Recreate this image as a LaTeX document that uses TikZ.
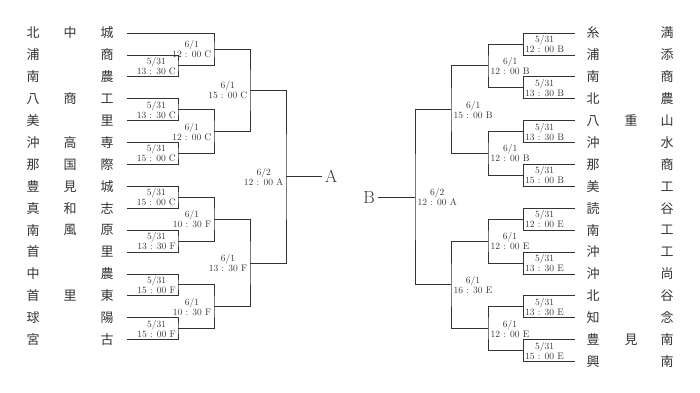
\documentclass[tikz,border=0pt]{standalone}
\usepackage{fontspec}
\newfontfamily\cjkfont{Noto Sans CJK JP}
\definecolor{ink}{HTML}{333333}
\begin{document}
\begin{tikzpicture}[x=1pt,y=-1pt,
  team/.style={font=\cjkfont\fontsize{13}{13}\selectfont,text=ink,inner sep=0pt},
  lbl/.style={font=\fontsize{9.5}{10}\selectfont,align=center,text=ink,inner sep=0.5pt},
  br/.style={draw=ink,line width=0.8pt},
  big/.style={font=\fontsize{17.5}{17.5}\selectfont,text=ink,inner sep=3pt}]
\useasboundingbox (0,0) rectangle (700,392);
\pgfmathsetmacro\rs{21.9}
% ---------- left teams ----------
\foreach \i/\a/\c in {0/北/城,1/浦/商,2/南/農,3/八/工,4/美/里,5/沖/専,6/那/際,7/豊/城,8/真/志,9/南/原,10/首/里,11/中/農,12/首/東,13/球/陽,14/宮/古}{
  \node[team] (la\i) at (33,{33+\rs*\i}) {\a};
  \node[team] (lc\i) at (107,{33+\rs*\i}) {\c};
  \coordinate (lt\i) at (127,{33+\rs*\i});
}
\foreach \i/\b in {0/中,3/商,5/高,6/国,7/見,8/和,9/風,12/里}{
  \node[team] (lb\i) at (70,{33+\rs*\i}) {\b};
}
% ---------- right teams ----------
\foreach \i/\a/\c in {0/糸/満,1/浦/添,2/南/商,3/北/農,4/八/山,5/沖/水,6/那/商,7/美/工,8/読/谷,9/南/工,10/沖/工,11/沖/尚,12/北/谷,13/知/念,14/豊/南,15/興/南}{
  \node[team] (ra\i) at (593,{33+\rs*\i}) {\a};
  \node[team] (rc\i) at (667,{33+\rs*\i}) {\c};
  \coordinate (rt\i) at (575,{33+\rs*\i});
}
\foreach \i/\b in {4/重,14/見}{
  \node[team] (rb\i) at (631,{33+\rs*\i}) {\b};
}
% ---------- left round 1 ----------
\foreach \k/\t in {1/13 : 30 C,2/13 : 30 C,3/15 : 00 C,4/15 : 00 C,5/13 : 30 F,6/15 : 00 F,7/15 : 00 F}{
  \pgfmathtruncatemacro\ra{2*\k-1}
  \pgfmathtruncatemacro\rb{2*\k}
  \pgfmathsetmacro\ym{33+\rs*(2*\k-0.5)}
  \coordinate (l1m\k) at (178,\ym);
  \draw[br] (lt\ra) -| (l1m\k) |- (lt\rb);
  \node[lbl,anchor=east] (l1t\k) at (176.5,\ym) {5/31\\\t};
}
% ---------- left round 2 ----------
\coordinate (l2m1) at (214,{33+\rs*0.75});
\coordinate (l2m2) at (214,{33+\rs*4.5});
\coordinate (l2m3) at (214,{33+\rs*8.5});
\coordinate (l2m4) at (214,{33+\rs*12.5});
\draw[br] (lt0) -| (l2m1) |- (l1m1);
\draw[br] (l1m2) -| (l2m2) |- (l1m3);
\draw[br] (l1m4) -| (l2m3) |- (l1m5);
\draw[br] (l1m6) -| (l2m4) |- (l1m7);
\node[lbl,anchor=east] (l2t1) at (212,{33+\rs*0.75}) {6/1\\12 : 00 C};
\node[lbl,anchor=east] (l2t2) at (212,{33+\rs*4.5}) {6/1\\12 : 00 C};
\node[lbl,anchor=east] (l2t3) at (212,{33+\rs*8.5}) {6/1\\10 : 30 F};
\node[lbl,anchor=east] (l2t4) at (212,{33+\rs*12.5}) {6/1\\10 : 30 F};
% ---------- left round 3 ----------
\coordinate (l3m1) at (250,{33+\rs*2.625});
\coordinate (l3m2) at (250,{33+\rs*10.5});
\draw[br] (l2m1) -| (l3m1) |- (l2m2);
\draw[br] (l2m3) -| (l3m2) |- (l2m4);
\node[lbl,anchor=east] (l3t1) at (248,{33+\rs*2.625}) {6/1\\15 : 00 C};
\node[lbl,anchor=east] (l3t2) at (248,{33+\rs*10.5}) {6/1\\13 : 30 F};
% ---------- left final ----------
\coordinate (l4m) at (286,{33+\rs*6.5625});
\draw[br] (l3m1) -| (l4m) |- (l3m2);
\node[lbl,anchor=east] (l4t) at (284,{33+\rs*6.5625}) {6/2\\12 : 00 A};
\node[big,anchor=west] (A) at (322,{33+\rs*6.5625}) {A};
\draw[br] (l4m) -- (A.west);
% ---------- right round 1 ----------
\foreach \k/\t in {1/12 : 00 B,2/13 : 30 B,3/13 : 30 B,4/15 : 00 B,5/12 : 00 E,6/13 : 30 E,7/13 : 30 E,8/15 : 00 E}{
  \pgfmathtruncatemacro\ra{2*\k-2}
  \pgfmathtruncatemacro\rb{2*\k-1}
  \pgfmathsetmacro\ym{33+\rs*(2*\k-1.5)}
  \coordinate (r1m\k) at (523,\ym);
  \draw[br] (rt\ra) -| (r1m\k) |- (rt\rb);
  \node[lbl,anchor=west] (r1t\k) at (524.5,\ym) {5/31\\\t};
}
% ---------- right round 2 ----------
\coordinate (r2m1) at (488,{33+\rs*1.5});
\coordinate (r2m2) at (488,{33+\rs*5.5});
\coordinate (r2m3) at (488,{33+\rs*9.5});
\coordinate (r2m4) at (488,{33+\rs*13.5});
\draw[br] (r1m1) -| (r2m1) |- (r1m2);
\draw[br] (r1m3) -| (r2m2) |- (r1m4);
\draw[br] (r1m5) -| (r2m3) |- (r1m6);
\draw[br] (r1m7) -| (r2m4) |- (r1m8);
\node[lbl,anchor=west] (r2t1) at (490,{33+\rs*1.5}) {6/1\\12 : 00 B};
\node[lbl,anchor=west] (r2t2) at (490,{33+\rs*5.5}) {6/1\\12 : 00 B};
\node[lbl,anchor=west] (r2t3) at (490,{33+\rs*9.5}) {6/1\\12 : 00 E};
\node[lbl,anchor=west] (r2t4) at (490,{33+\rs*13.5}) {6/1\\12 : 00 E};
% ---------- right round 3 ----------
\coordinate (r3m1) at (451,{33+\rs*3.5});
\coordinate (r3m2) at (451,{33+\rs*11.5});
\draw[br] (r2m1) -| (r3m1) |- (r2m2);
\draw[br] (r2m3) -| (r3m2) |- (r2m4);
\node[lbl,anchor=west] (r3t1) at (453,{33+\rs*3.5}) {6/1\\15 : 00 B};
\node[lbl,anchor=west] (r3t2) at (453,{33+\rs*11.5}) {6/1\\16 : 30 E};
% ---------- right final ----------
\coordinate (r4m) at (415,{33+\rs*7.5});
\draw[br] (r3m1) -| (r4m) |- (r3m2);
\node[lbl,anchor=west] (r4t) at (417,{33+\rs*7.5}) {6/2\\12 : 00 A};
\node[big,anchor=east] (B) at (378,{33+\rs*7.5}) {B};
\draw[br] (r4m) -- (B.east);
\end{tikzpicture}
\end{document}
